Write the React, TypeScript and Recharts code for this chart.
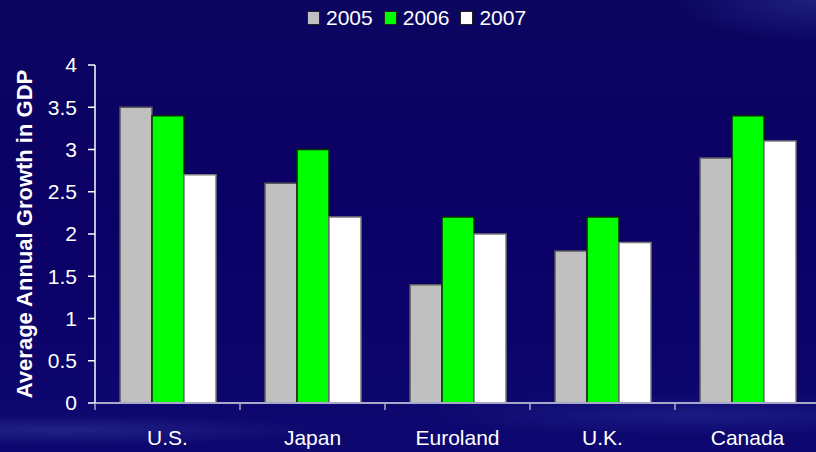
import { BarChart, Bar, XAxis, YAxis, Legend, Label } from "recharts";

const categories = ["U.S.", "Japan", "Euroland", "U.K.", "Canada"];
const growth2005 = [3.5, 2.6, 1.4, 1.8, 2.9];
const growth2006 = [3.4, 3.0, 2.2, 2.2, 3.4];
const growth2007 = [2.7, 2.2, 2.0, 1.9, 3.1];
const yTicks = [0, 0.5, 1, 1.5, 2, 2.5, 3, 3.5, 4];

const SERIES = [
  { key: "2005", fill: "#c0c0c0", stroke: "#5a5a5a" },
  { key: "2006", fill: "#00ff00", stroke: "#0a2a0a" },
  { key: "2007", fill: "#ffffff", stroke: "#7a7a7a" },
];

const data = categories.map((name, i) => ({
  name,
  "2005": growth2005[i],
  "2006": growth2006[i],
  "2007": growth2007[i],
}));

const FONT = "'Liberation Sans', Arial, sans-serif";
const AXIS_GRAY = "#a8a8cc";

// chart geometry
const CHART_W = 830;
const CHART_H = 452;
const MARGIN = { top: 65, right: 10, left: 0, bottom: 0 };
const X_AXIS_H = 49;
const Y_AXIS_W = 95;
const BAND = (CHART_W - MARGIN.left - MARGIN.right - Y_AXIS_W) / categories.length;

function CategoryTick(props: any) {
  const { x, y, payload } = props;
  const edge = x - BAND / 2;
  return (
    <g>
      <line x1={edge} x2={edge} y1={y - 7} y2={y} stroke={AXIS_GRAY} strokeWidth={1.5} />
      <text x={x} y={y} dy={35} textAnchor="middle" fill="#ffffff" fontSize={21} fontFamily={FONT}>
        {payload.value}
      </text>
    </g>
  );
}

function LegendContent() {
  return (
    <div style={{ display: "flex", alignItems: "center", fontFamily: FONT, fontSize: 21, color: "#fff" }}>
      {SERIES.map((s) => (
        <div key={s.key} style={{ display: "flex", alignItems: "center", marginRight: 11 }}>
          <span
            style={{
              width: 11,
              height: 12,
              background: s.fill,
              border: "1px solid #222",
              display: "inline-block",
              marginRight: 6,
            }}
          />
          <span>{s.key}</span>
        </div>
      ))}
    </div>
  );
}

export default function App() {
  return (
    <div
      style={{
        position: "fixed",
        left: 0,
        top: 0,
        width: 816,
        height: 452,
        overflow: "hidden",
        background:
          "radial-gradient(ellipse 380px 22px at 60px 430px, rgba(90,110,200,0.25), rgba(0,0,0,0) 70%)," +
          "radial-gradient(ellipse 420px 30px at 700px 415px, rgba(70,100,200,0.22), rgba(0,0,0,0) 70%)," +
          "radial-gradient(ellipse 200px 60px at 816px 0px, rgba(60,70,170,0.4), rgba(0,0,0,0) 70%)," +
          "linear-gradient(180deg, #0b0660 0%, #0b0066 50%, #0d0870 100%)",
      }}
    >
      <BarChart
        width={CHART_W}
        height={CHART_H}
        data={data}
        margin={MARGIN}
        barGap={0}
        barCategoryGap={25}
      >
        <Legend
          verticalAlign="top"
          content={<LegendContent />}
          wrapperStyle={{ position: "absolute", left: 307, top: 6, width: 240, height: 0, overflow: "visible" }}
        />
        <XAxis
          dataKey="name"
          axisLine={{ stroke: AXIS_GRAY, strokeWidth: 2 }}
          tickLine={false}
          tick={<CategoryTick />}
          tickSize={7}
          tickMargin={0}
          height={X_AXIS_H}
          interval={0}
        />
        <YAxis
          domain={[0, 4]}
          ticks={yTicks}
          width={Y_AXIS_W}
          axisLine={{ stroke: "#ffffff", strokeWidth: 1.5 }}
          tickLine={{ stroke: "#ffffff", strokeWidth: 1.5 }}
          tickSize={7}
          tickMargin={11}
          tick={{ fill: "#ffffff", fontSize: 21, fontFamily: FONT }}
          interval={0}
        >
          <Label
            value="Average Annual Growth in GDP"
            angle={-90}
            position="insideLeft"
            offset={24}
            style={{ textAnchor: "middle", fill: "#ffffff", fontSize: 22, fontWeight: "bold", fontFamily: FONT }}
          />
        </YAxis>
        {SERIES.map((s) => (
          <Bar
            key={s.key}
            dataKey={s.key}
            fill={s.fill}
            stroke={s.stroke}
            strokeWidth={1.5}
            isAnimationActive={false}
          />
        ))}
      </BarChart>
    </div>
  );
}
